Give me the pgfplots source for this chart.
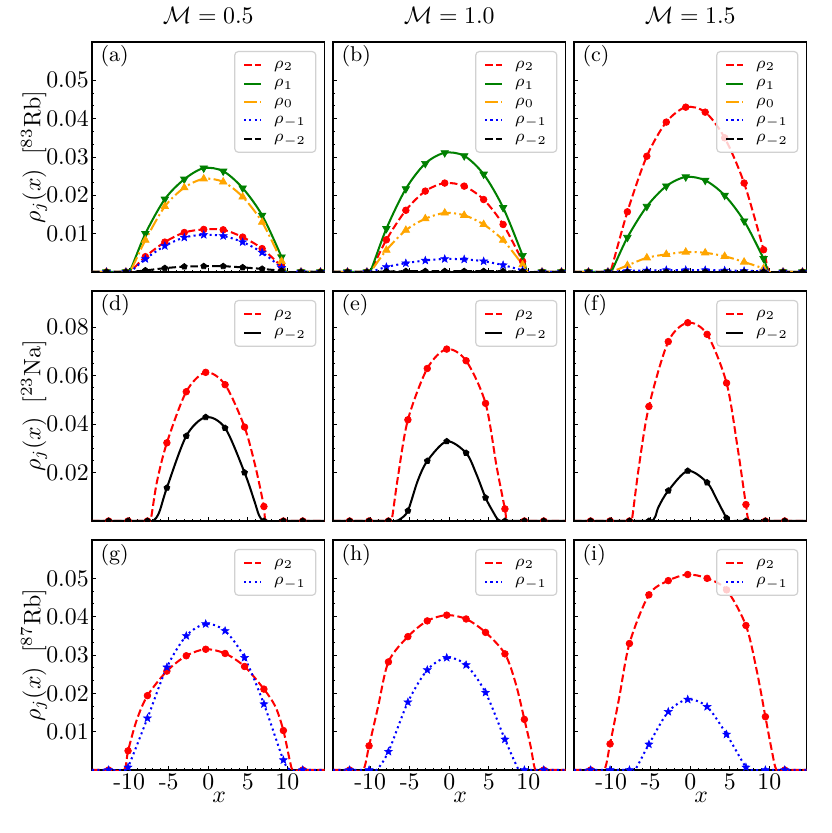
\documentclass[border=0pt]{standalone}
\usepackage{pgfplots}
\pgfplotsset{compat=1.18}
\usetikzlibrary{plotmarks}
\definecolor{mplgreen}{rgb}{0,0.5,0}
\definecolor{mplorange}{rgb}{1,0.647,0}
\pgfdeclareplotmark{fstar}{%
 \pgfpathmoveto{\pgfpointpolar{90}{\pgfplotmarksize}}%
 \pgfpathlineto{\pgfpointpolar{126}{0.42\pgfplotmarksize}}%
 \pgfpathlineto{\pgfpointpolar{162}{\pgfplotmarksize}}%
 \pgfpathlineto{\pgfpointpolar{198}{0.42\pgfplotmarksize}}%
 \pgfpathlineto{\pgfpointpolar{234}{\pgfplotmarksize}}%
 \pgfpathlineto{\pgfpointpolar{270}{0.42\pgfplotmarksize}}%
 \pgfpathlineto{\pgfpointpolar{306}{\pgfplotmarksize}}%
 \pgfpathlineto{\pgfpointpolar{342}{0.42\pgfplotmarksize}}%
 \pgfpathlineto{\pgfpointpolar{18}{\pgfplotmarksize}}%
 \pgfpathlineto{\pgfpointpolar{54}{0.42\pgfplotmarksize}}%
 \pgfpathclose\pgfusepathqfillstroke}
\tikzset{plab/.style={anchor=north west, font=\small, inner sep=0pt}}
\pgfplotsset{
  base/.style={
    scale only axis, width=97.65pt, height=96.6pt, anchor=north west,
    xmin=-14.7, xmax=14.7, ymin=0,
    axis line style={line width=0.7pt},
    tick align=inside, xtick pos=bottom, ytick pos=left,
    xtick={-10,-5,0,5,10}, minor x tick num=4,
    major tick length=1.8pt, minor tick length=1pt,
    every tick/.style={black, line width=0.4pt},
    scaled y ticks=false, scaled x ticks=false,
    clip marker paths=true,
    xticklabels={}, yticklabels={},
    yticklabel style={inner xsep=1.2pt},
    xticklabel style={inner ysep=1.5pt},
    legend cell align=left,
    legend style={at={(axis description cs:0.965,0.961)}, anchor=north east,
      draw=black!18, rounded corners=1.5pt, fill=white, fill opacity=0.8, text opacity=1,
      font=\fontsize{7}{8}\selectfont, inner xsep=3.5pt, inner ysep=2pt, row sep=0.2pt, line width=0.5pt,
      nodes={inner sep=0.6pt, text height=4.5pt, text depth=1.8pt},
      /tikz/every odd column/.append style={column sep=4.5pt}},
    legend image code/.code={\draw[#1] (0pt,0pt) -- (7pt,0pt);},
    title style={yshift=-1.6pt},
    ylabel style={at={(axis description cs:-0.249,0.5)}, anchor=center},
    xlabel style={at={(axis description cs:0.547,-0.117)}, anchor=center},
  },
  r13/.style={ymax=0.06, ytick={0.01,0.02,0.03,0.04,0.05}, minor y tick num=2},
  r2/.style={ymax=0.095, ytick={0.02,0.04,0.06,0.08}, minor y tick num=3},
  l2/.style={red, line width=0.85pt, dash pattern=on 3.2pt off 1.4pt, smooth, no markers},
  l1/.style={mplgreen, line width=0.85pt, solid, smooth, no markers},
  l0/.style={mplorange, line width=0.85pt, dash pattern=on 5.4pt off 1.4pt on 0.85pt off 1.4pt, smooth, no markers},
  lm1/.style={blue, line width=0.85pt, dash pattern=on 0.85pt off 1.4pt, smooth, no markers},
  lm2/.style={black, line width=0.85pt, dash pattern=on 3.2pt off 1.4pt, smooth, no markers},
  lm2s/.style={black, line width=0.85pt, solid, smooth, no markers},
  m2/.style={only marks, mark=*, mark size=1.4pt, red, mark options={solid, line width=0.3pt}, forget plot},
  m1/.style={only marks, mark=triangle*, mark size=1.8pt, mplgreen, mark options={solid, rotate=180, line width=0.3pt}, forget plot},
  m0/.style={only marks, mark=triangle*, mark size=1.8pt, mplorange, mark options={solid, line width=0.3pt}, forget plot},
  mm1/.style={only marks, mark=fstar, mark size=1.75pt, blue, mark options={solid, line width=0.2pt}, forget plot},
  mm2/.style={only marks, mark=pentagon*, mark size=1.3pt, black, mark options={solid, line width=0.3pt}, forget plot},
}
\newcommand{\plab}[1]{\node[plab] at (axis description cs:0.035,0.985) {#1};}
\begin{document}
\begin{tikzpicture}
\useasboundingbox (0pt,0pt) rectangle (349.02pt,-349.86pt);
% ---------------- (a)
\begin{axis}[base, r13, at={(38.64pt,-17.64pt)},
  yticklabels={0.01,0.02,0.03,0.04,0.05},
  title={$\mathcal{M}=0.5$}, ylabel={$\rho_j(x)$\hspace{6pt}$[^{83}\mathrm{Rb}]$},
  legend entries={$\rho_2$,$\rho_1$,$\rho_0$,$\rho_{-1}$,$\rho_{-2}$}]
\addplot[l2] coordinates {(-14.7,0)(-12.87,0)(-10.41,0)(-9.9,0)(-7.95,0.0040)(-5.49,0.0078)(-3.03,0.0103)(-0.57,0.0111)(1.89,0.0110)(4.35,0.0091)(6.81,0.0061)(9.27,0.0014)(9.8,0)(11.73,0)(14.7,0)};
\addplot[l1] coordinates {(-14.7,0)(-12.87,0)(-10.41,0)(-9.95,0)(-7.95,0.0100)(-5.49,0.0190)(-3.03,0.0242)(-0.57,0.0271)(1.89,0.0263)(4.35,0.0219)(6.81,0.0148)(9.27,0.0039)(9.85,0)(11.73,0)(14.7,0)};
\addplot[l0] coordinates {(-14.7,0)(-12.87,0)(-10.41,0)(-9.9,0)(-7.95,0.0083)(-5.49,0.0171)(-3.03,0.0220)(-0.57,0.0243)(1.89,0.0235)(4.35,0.0196)(6.81,0.0130)(9.27,0.0028)(9.8,0)(11.73,0)(14.7,0)};
\addplot[lm1] coordinates {(-14.7,0)(-12.87,0)(-10.41,0)(-9.9,0)(-7.95,0.0034)(-5.49,0.0068)(-3.03,0.0090)(-0.57,0.0097)(1.89,0.0094)(4.35,0.0078)(6.81,0.0051)(9.27,0.0011)(9.7,0)(11.73,0)(14.7,0)};
\addplot[lm2] coordinates {(-14.7,0)(-12.87,0)(-10.41,0)(-9.9,0)(-7.95,0.0004)(-5.49,0.0010)(-3.03,0.0014)(-0.57,0.0015)(1.89,0.0015)(4.35,0.0012)(6.81,0.0008)(9.27,0.0003)(9.7,0)(11.73,0)(14.7,0)};
\addplot[m2] coordinates {(-12.87,0)(-10.41,0)(-7.95,0.0040)(-5.49,0.0078)(-3.03,0.0103)(-0.57,0.0111)(1.89,0.0110)(4.35,0.0091)(6.81,0.0061)(9.27,0.0014)(11.73,0)(14.19,0)};
\addplot[m1] coordinates {(-12.87,0)(-10.41,0)(-7.95,0.0100)(-5.49,0.0190)(-3.03,0.0242)(-0.57,0.0271)(1.89,0.0263)(4.35,0.0219)(6.81,0.0148)(9.27,0.0039)(11.73,0)(14.19,0)};
\addplot[m0] coordinates {(-12.87,0)(-10.41,0)(-7.95,0.0083)(-5.49,0.0171)(-3.03,0.0220)(-0.57,0.0243)(1.89,0.0235)(4.35,0.0196)(6.81,0.0130)(9.27,0.0028)(11.73,0)(14.19,0)};
\addplot[mm1] coordinates {(-12.87,0)(-10.41,0)(-7.95,0.0034)(-5.49,0.0068)(-3.03,0.0090)(-0.57,0.0097)(1.89,0.0094)(4.35,0.0078)(6.81,0.0051)(9.27,0.0011)(11.73,0)(14.19,0)};
\addplot[mm2] coordinates {(-12.87,0)(-10.41,0)(-7.95,0.0004)(-5.49,0.0010)(-3.03,0.0014)(-0.57,0.0015)(1.89,0.0015)(4.35,0.0012)(6.81,0.0008)(9.27,0.0003)(11.73,0)(14.19,0)};
\plab{(a)}
\end{axis}
% ---------------- (b)
\begin{axis}[base, r13, at={(139.86pt,-17.64pt)},
  title={$\mathcal{M}=1.0$},
  legend entries={$\rho_2$,$\rho_1$,$\rho_0$,$\rho_{-1}$,$\rho_{-2}$}]
\addplot[l2] coordinates {(-14.7,0)(-12.87,0)(-10.41,0)(-10.0,0)(-7.95,0.0084)(-5.49,0.0161)(-3.03,0.0211)(-0.57,0.0232)(1.89,0.0224)(4.35,0.0189)(6.81,0.0124)(9.27,0.0028)(9.9,0)(11.73,0)(14.7,0)};
\addplot[l1] coordinates {(-14.7,0)(-12.87,0)(-10.41,0)(-10.0,0)(-7.95,0.0113)(-5.49,0.0217)(-3.03,0.0283)(-0.57,0.0311)(1.89,0.0303)(4.35,0.0255)(6.81,0.0168)(9.27,0.0043)(9.9,0)(11.73,0)(14.7,0)};
\addplot[l0] coordinates {(-14.7,0)(-12.87,0)(-10.41,0)(-10.0,0)(-7.95,0.0057)(-5.49,0.0109)(-3.03,0.0139)(-0.57,0.0154)(1.89,0.0148)(4.35,0.0124)(6.81,0.0083)(9.27,0.0019)(9.9,0)(11.73,0)(14.7,0)};
\addplot[lm1] coordinates {(-14.7,0)(-12.87,0)(-10.41,0)(-10.0,0)(-7.95,0.0013)(-5.49,0.0023)(-3.03,0.0030)(-0.57,0.0034)(1.89,0.0033)(4.35,0.0028)(6.81,0.0018)(9.27,0.0004)(9.9,0)(11.73,0)(14.7,0)};
\addplot[lm2] coordinates {(-14.7,0)(-12.87,0)(-10.41,0)(-10.0,0)(-7.95,0.0001)(-5.49,0.0002)(-3.03,0.0002)(-0.57,0.0002)(1.89,0.0002)(4.35,0.0002)(6.81,0.0002)(9.27,0.0001)(9.9,0)(11.73,0)(14.7,0)};
\addplot[m2] coordinates {(-12.87,0)(-10.41,0)(-7.95,0.0084)(-5.49,0.0161)(-3.03,0.0211)(-0.57,0.0232)(1.89,0.0224)(4.35,0.0189)(6.81,0.0124)(9.27,0.0028)(11.73,0)(14.19,0)};
\addplot[m1] coordinates {(-12.87,0)(-10.41,0)(-7.95,0.0113)(-5.49,0.0217)(-3.03,0.0283)(-0.57,0.0311)(1.89,0.0303)(4.35,0.0255)(6.81,0.0168)(9.27,0.0043)(11.73,0)(14.19,0)};
\addplot[m0] coordinates {(-12.87,0)(-10.41,0)(-7.95,0.0057)(-5.49,0.0109)(-3.03,0.0139)(-0.57,0.0154)(1.89,0.0148)(4.35,0.0124)(6.81,0.0083)(9.27,0.0019)(11.73,0)(14.19,0)};
\addplot[mm1] coordinates {(-12.87,0)(-10.41,0)(-7.95,0.0013)(-5.49,0.0023)(-3.03,0.0030)(-0.57,0.0034)(1.89,0.0033)(4.35,0.0028)(6.81,0.0018)(9.27,0.0004)(11.73,0)(14.19,0)};
\addplot[mm2] coordinates {(-12.87,0)(-10.41,0)(-7.95,0.0001)(-5.49,0.0002)(-3.03,0.0002)(-0.57,0.0002)(1.89,0.0002)(4.35,0.0002)(6.81,0.0002)(9.27,0.0001)(11.73,0)(14.19,0)};
\plab{(b)}
\end{axis}
% ---------------- (c)
\begin{axis}[base, r13, at={(241.08pt,-17.64pt)},
  title={$\mathcal{M}=1.5$},
  legend entries={$\rho_2$,$\rho_1$,$\rho_0$,$\rho_{-1}$,$\rho_{-2}$}]
\addplot[l2] coordinates {(-14.7,0)(-12.87,0)(-10.41,0)(-10.1,0)(-7.95,0.0157)(-5.49,0.0302)(-3.03,0.0391)(-0.57,0.0430)(1.89,0.0417)(4.35,0.0350)(6.81,0.0232)(9.27,0.0058)(10.0,0)(11.73,0)(14.7,0)};
\addplot[l1] coordinates {(-14.7,0)(-12.87,0)(-10.41,0)(-10.0,0)(-7.95,0.0090)(-5.49,0.0171)(-3.03,0.0224)(-0.57,0.0248)(1.89,0.0239)(4.35,0.0200)(6.81,0.0133)(9.27,0.0035)(9.95,0)(11.73,0)(14.7,0)};
\addplot[l0] coordinates {(-14.7,0)(-12.87,0)(-10.41,0)(-10.0,0)(-7.95,0.0017)(-5.49,0.0037)(-3.03,0.0046)(-0.57,0.0052)(1.89,0.0050)(4.35,0.0041)(6.81,0.0026)(9.27,0.0009)(9.95,0)(11.73,0)(14.7,0)};
\addplot[lm1] coordinates {(-14.7,0)(-12.87,0)(-10.41,0)(-10.0,0)(-7.95,0.0003)(-5.49,0.0004)(-3.03,0.0005)(-0.57,0.0005)(1.89,0.0005)(4.35,0.0004)(6.81,0.0003)(9.27,0.0002)(9.95,0)(11.73,0)(14.7,0)};
\addplot[lm2] coordinates {(-14.7,0)(-12.87,0)(0,0)(11.73,0)(14.7,0)};
\addplot[m2] coordinates {(-12.87,0)(-10.41,0)(-7.95,0.0157)(-5.49,0.0302)(-3.03,0.0391)(-0.57,0.0430)(1.89,0.0417)(4.35,0.0350)(6.81,0.0232)(9.27,0.0058)(11.73,0)(14.19,0)};
\addplot[m1] coordinates {(-12.87,0)(-10.41,0)(-7.95,0.0090)(-5.49,0.0171)(-3.03,0.0224)(-0.57,0.0248)(1.89,0.0239)(4.35,0.0200)(6.81,0.0133)(9.27,0.0035)(11.73,0)(14.19,0)};
\addplot[m0] coordinates {(-12.87,0)(-10.41,0)(-7.95,0.0017)(-5.49,0.0037)(-3.03,0.0046)(-0.57,0.0052)(1.89,0.0050)(4.35,0.0041)(6.81,0.0026)(9.27,0.0009)(11.73,0)(14.19,0)};
\addplot[mm1] coordinates {(-12.87,0)(-10.41,0)(-7.95,0.0003)(-5.49,0.0004)(-3.03,0.0005)(-0.57,0.0005)(1.89,0.0005)(4.35,0.0004)(6.81,0.0003)(9.27,0.0002)(11.73,0)(14.19,0)};
\addplot[mm2] coordinates {(-12.87,0)(-10.41,0)(-7.95,0)(-5.49,0)(-3.03,0)(-0.57,0)(1.89,0)(4.35,0)(6.81,0)(9.27,0)(11.73,0)(14.19,0)};
\plab{(c)}
\end{axis}
% ---------------- (d)
\begin{axis}[base, r2, at={(38.64pt,-122.22pt)},
  yticklabels={0.02,0.04,0.06,0.08},
  ylabel={$\rho_j(x)$\hspace{6pt}$[^{23}\mathrm{Na}]$},
  legend entries={$\rho_2$,$\rho_{-2}$}]
\addplot[l2] coordinates {(-14.7,0)(-12.6,0)(-10.14,0)(-7.69,0)(-7.3,0)(-6.5,0.016)(-5.23,0.0323)(-2.78,0.0534)(-0.32,0.0614)(2.13,0.0563)(4.59,0.0388)(6.0,0.022)(7.04,0.0060)(7.35,0)(9.5,0)(11.95,0)(14.7,0)};
\addplot[lm2s] coordinates {(-14.7,0)(-10.14,0)(-7.69,0)(-7.1,0)(-6.6,0.0012)(-6.1,0.0045)(-5.23,0.0137)(-2.78,0.0351)(-0.32,0.0429)(2.13,0.0384)(4.59,0.0200)(5.8,0.0086)(6.4,0.0025)(6.9,0.0002)(7.5,0)(9.5,0)(14.7,0)};
\addplot[m2] coordinates {(-12.6,0)(-10.14,0)(-7.69,0)(-5.23,0.0323)(-2.78,0.0534)(-0.32,0.0614)(2.13,0.0563)(4.59,0.0388)(7.04,0.0060)(9.5,0)(11.95,0)};
\addplot[mm2] coordinates {(-12.6,0)(-10.14,0)(-7.69,0)(-5.23,0.0137)(-2.78,0.0351)(-0.32,0.0429)(2.13,0.0384)(4.59,0.0200)(7.04,0)(9.5,0)(11.95,0)};
\plab{(d)}
\end{axis}
% ---------------- (e)
\begin{axis}[base, r2, at={(139.86pt,-122.22pt)},
  legend entries={$\rho_2$,$\rho_{-2}$}]
\addplot[l2] coordinates {(-14.7,0)(-12.6,0)(-10.14,0)(-7.69,0)(-7.3,0)(-6.5,0.018)(-5.23,0.0418)(-2.78,0.0630)(-0.32,0.0710)(2.13,0.0662)(4.59,0.0486)(6.0,0.0223)(7.04,0.0050)(7.4,0)(9.5,0)(11.95,0)(14.7,0)};
\addplot[lm2s] coordinates {(-14.7,0)(-10.14,0)(-7.69,0)(-6.8,0)(-6.2,0.0008)(-5.23,0.0042)(-4.0,0.0165)(-2.78,0.0248)(-0.32,0.0329)(2.13,0.0281)(3.4,0.0196)(4.59,0.0096)(5.5,0.0040)(6.1,0.0008)(6.6,0)(7.04,0)(9.5,0)(14.7,0)};
\addplot[m2] coordinates {(-12.6,0)(-10.14,0)(-7.69,0)(-5.23,0.0418)(-2.78,0.0630)(-0.32,0.0710)(2.13,0.0662)(4.59,0.0486)(7.04,0.0050)(9.5,0)(11.95,0)};
\addplot[mm2] coordinates {(-12.6,0)(-10.14,0)(-7.69,0)(-5.23,0.0042)(-2.78,0.0248)(-0.32,0.0329)(2.13,0.0281)(4.59,0.0096)(7.04,0)(9.5,0)(11.95,0)};
\plab{(e)}
\end{axis}
% ---------------- (f)
\begin{axis}[base, r2, at={(241.08pt,-122.22pt)},
  legend entries={$\rho_2$,$\rho_{-2}$}]
\addplot[l2] coordinates {(-14.7,0)(-12.6,0)(-10.14,0)(-7.69,0)(-7.4,0)(-6.5,0.0223)(-5.23,0.0473)(-2.78,0.0741)(-0.32,0.0819)(2.13,0.0771)(4.59,0.0570)(6.0,0.030)(7.04,0.0068)(7.5,0)(9.5,0)(11.95,0)(14.7,0)};
\addplot[lm2s] coordinates {(-14.7,0)(-10.14,0)(-7.69,0)(-5.23,0)(-4.8,0)(-4.4,0.002)(-4.0,0.0059)(-2.78,0.0125)(-0.32,0.0207)(2.13,0.0159)(3.4,0.0086)(4.59,0.0012)(5.0,0)(5.5,0)(7.04,0)(9.5,0)(14.7,0)};
\addplot[m2] coordinates {(-12.6,0)(-10.14,0)(-7.69,0)(-5.23,0.0473)(-2.78,0.0741)(-0.32,0.0819)(2.13,0.0771)(4.59,0.0570)(7.04,0.0068)(9.5,0)(11.95,0)};
\addplot[mm2] coordinates {(-12.6,0)(-10.14,0)(-7.69,0)(-5.23,0)(-2.78,0.0125)(-0.32,0.0207)(2.13,0.0159)(4.59,0.0012)(7.04,0)(9.5,0)(11.95,0)};
\plab{(f)}
\end{axis}
% ---------------- (g)
\begin{axis}[base, r13, at={(38.64pt,-226.8pt)},
  yticklabels={0.01,0.02,0.03,0.04,0.05}, xticklabels={-10,-5,0,5,10},
  ylabel={$\rho_j(x)$\hspace{6pt}$[^{87}\mathrm{Rb}]$}, xlabel={$x$},
  legend entries={$\rho_2$,$\rho_{-1}$}]
\addplot[l2] coordinates {(-14.7,0)(-12.6,0)(-10.65,0)(-10.14,0.0050)(-9.05,0.013)(-7.69,0.0194)(-5.23,0.0258)(-2.78,0.0298)(-0.32,0.0315)(2.13,0.0304)(4.59,0.0270)(7.04,0.0211)(8.5,0.0165)(9.5,0.0103)(10.3,0.0026)(10.7,0)(11.95,0)(14.7,0)};
\addplot[lm1] coordinates {(-14.7,0)(-12.6,0)(-10.5,0)(-10.14,0.0007)(-7.69,0.0135)(-5.23,0.0268)(-2.78,0.0350)(-0.32,0.0381)(2.13,0.0363)(4.59,0.0293)(7.04,0.0172)(9.5,0.0026)(10.4,0)(11.95,0)(14.7,0)};
\addplot[m2] coordinates {(-12.6,0)(-10.14,0.0050)(-7.69,0.0194)(-5.23,0.0258)(-2.78,0.0298)(-0.32,0.0315)(2.13,0.0304)(4.59,0.0270)(7.04,0.0211)(9.5,0.0103)(11.95,0)};
\addplot[mm1] coordinates {(-12.6,0)(-10.14,0.0007)(-7.69,0.0135)(-5.23,0.0268)(-2.78,0.0350)(-0.32,0.0381)(2.13,0.0363)(4.59,0.0293)(7.04,0.0172)(9.5,0.0026)(11.95,0)};
\plab{(g)}
\end{axis}
% ---------------- (h)
\begin{axis}[base, r13, at={(139.86pt,-226.8pt)},
  xticklabels={-10,-5,0,5,10}, xlabel={$x$},
  legend entries={$\rho_2$,$\rho_{-1}$}]
\addplot[l2] coordinates {(-14.7,0)(-12.6,0)(-10.9,0)(-10.14,0.0063)(-9.0,0.0165)(-7.69,0.0282)(-5.23,0.0348)(-2.78,0.0389)(-0.32,0.0404)(2.13,0.0394)(4.59,0.0359)(7.04,0.0303)(8.4,0.0226)(9.5,0.0132)(10.3,0.0061)(10.9,0)(11.95,0)(14.7,0)};
\addplot[lm1] coordinates {(-14.7,0)(-12.6,0)(-10.14,0)(-9.2,0)(-7.69,0.0048)(-5.23,0.0177)(-2.78,0.0261)(-0.32,0.0293)(2.13,0.0274)(4.59,0.0202)(7.04,0.0080)(8.8,0)(9.5,0)(11.95,0)(14.7,0)};
\addplot[m2] coordinates {(-12.6,0)(-10.14,0.0063)(-7.69,0.0282)(-5.23,0.0348)(-2.78,0.0389)(-0.32,0.0404)(2.13,0.0394)(4.59,0.0359)(7.04,0.0303)(9.5,0.0132)(11.95,0)};
\addplot[mm1] coordinates {(-12.6,0)(-10.14,0)(-7.69,0.0048)(-5.23,0.0177)(-2.78,0.0261)(-0.32,0.0293)(2.13,0.0274)(4.59,0.0202)(7.04,0.0080)(9.5,0)(11.95,0)};
\plab{(h)}
\end{axis}
% ---------------- (i)
\begin{axis}[base, r13, at={(241.08pt,-226.8pt)},
  xticklabels={-10,-5,0,5,10}, xlabel={$x$},
  legend entries={$\rho_2$,$\rho_{-1}$}]
\addplot[l2] coordinates {(-14.7,0)(-12.6,0)(-10.9,0)(-10.14,0.0068)(-9.0,0.0187)(-7.69,0.0330)(-5.23,0.0457)(-2.78,0.0494)(-0.32,0.0510)(2.13,0.0500)(4.59,0.0470)(7.04,0.0377)(8.4,0.026)(9.5,0.0139)(10.3,0.0052)(10.9,0)(11.95,0)(14.7,0)};
\addplot[lm1] coordinates {(-14.7,0)(-12.6,0)(-10.14,0)(-7.69,0)(-7.0,0)(-5.23,0.0067)(-2.78,0.0152)(-0.32,0.0184)(2.13,0.0165)(4.59,0.0093)(7.04,0.0007)(7.8,0)(9.5,0)(11.95,0)(14.7,0)};
\addplot[m2] coordinates {(-12.6,0)(-10.14,0.0068)(-7.69,0.0330)(-5.23,0.0457)(-2.78,0.0494)(-0.32,0.0510)(2.13,0.0500)(4.59,0.0470)(7.04,0.0377)(9.5,0.0139)(11.95,0)};
\addplot[mm1] coordinates {(-12.6,0)(-10.14,0)(-7.69,0)(-5.23,0.0067)(-2.78,0.0152)(-0.32,0.0184)(2.13,0.0165)(4.59,0.0093)(7.04,0.0007)(9.5,0)(11.95,0)};
\plab{(i)}
\end{axis}
\end{tikzpicture}
\end{document}
